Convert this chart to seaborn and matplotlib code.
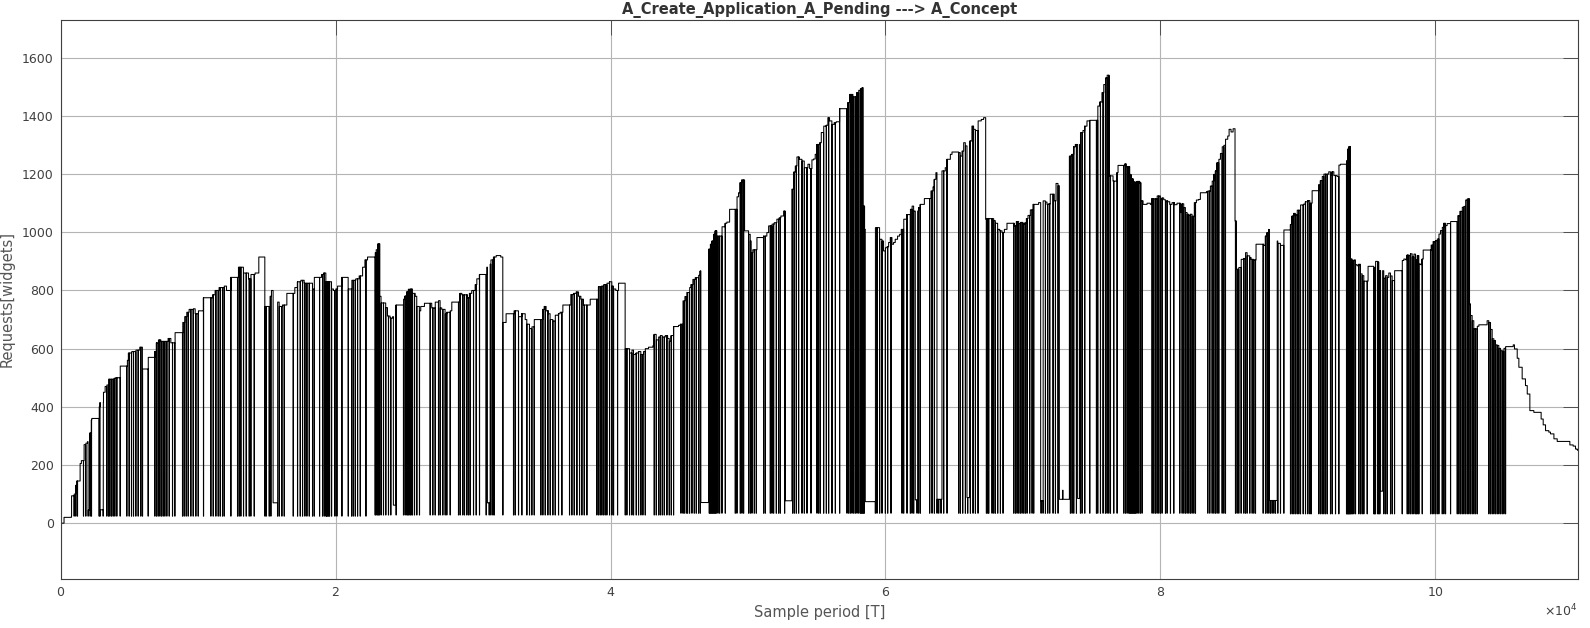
import numpy as np
import pandas as pd
import matplotlib
matplotlib.use("Agg")
import matplotlib.pyplot as plt
from matplotlib.ticker import ScalarFormatter, MultipleLocator
import seaborn as sns

sns.set_theme(style="white")
plt.rcParams["font.family"] = ["DejaVu Sans"]

# ---------------- data ----------------
# upper staircase (envelope): sample index where a new level starts, and that level
env_x = [0, 240, 780, 970, 1090, 1160, 1410, 1500, 1700, 1820, 1940, 2060, 2230, 2260, 2790, 2860,
         3110, 3230, 3350, 3470, 3880, 4000, 4320, 4850, 4920, 5170, 5460, 5750, 5940, 6360, 6840,
         6960, 7110, 7280, 7810, 8010, 8320, 8880, 9020, 9170, 9340, 9660, 9780, 10020, 10380, 11040,
         11230, 11520, 11890, 12060, 12370, 12930, 13290, 13660, 13830, 14140, 14410, 14850, 15230,
         15330, 15450, 15770, 15890, 16130, 16450, 17030, 17220, 17470, 17710, 18320, 18440, 18970,
         19120, 19290, 19700, 19840, 20010, 20140, 20450, 20910, 21180, 21470, 21710, 21960, 22130,
         22320,
         22870, 22940, 23040, 23210, 23300, 23640, 23770, 23960, 24150, 24370, 24930, 25050, 25170,
         25290, 25420, 25590, 25780, 25900, 26090, 26190, 26460, 26990, 27240, 27480, 27600, 27720,
         27960, 28080, 28330, 28450, 29050, 29180, 29590, 29730, 29900, 30150, 30270, 30460, 31000,
         31120, 31290, 31480, 31680, 32010, 32160, 32400, 32980, 33300, 33540, 33790, 33910, 34100,
         34270, 34440, 35070, 35170, 35310, 35480, 35600, 35800, 35970, 36210, 36330, 36530, 37110,
         37300, 37500, 37670, 37840, 38030, 38520, 39120, 39360, 39490, 39730, 39920, 40090, 40210,
         40380, 40580, 41060, 41380, 41550, 41670, 41860, 42030, 42200, 42400, 42520, 42760, 43080,
         43170, 43320, 43490, 43610, 43760, 43980, 44150, 44270, 44410, 44580, 44940,
         45070, 45260, 45410, 45550, 45750, 45840, 45990, 46160, 46400, 46520, 46570, 47130, 47250,
         47370, 47490, 47610, 47730, 48100, 48340, 48460, 48660, 49190, 49310, 49430, 49550, 49750,
         50040, 50160, 50230, 50350, 50650, 51130, 51370, 51500, 51740, 51910, 52100, 52270, 52390,
         52590, 52710, 53190, 53310, 53440, 53560, 53730, 53920, 54090, 54360, 54480, 54650, 54770,
         54890, 55010, 55210, 55330, 55500, 55690, 55810, 55930, 56100, 56270, 56420, 56660, 57240,
         57390, 57630, 57920, 58050, 58170, 58290, 58380, 58480, 58530, 59260, 59570, 59740, 59860,
         59990, 60110, 60230, 60350, 60470, 60590, 60710, 60880, 61030, 61150, 61320, 61560, 61810,
         61930, 62050, 62170, 62290, 62410, 62530, 62830, 63310, 63460, 63550, 63670, 63800, 63940,
         64110, 64350, 64470, 64720, 64840, 65320, 65440, 65570, 65690, 65810, 65930, 66050, 66290,
         66410, 66540, 66730, 66970, 67140, 67290, 67380,
         67870, 67990, 68160, 68310, 68480, 68650, 68840, 69370, 69520, 69690, 69810, 70000, 70100,
         70250, 70370, 70540, 70730, 71140, 71320, 71460, 71630, 71750, 71870, 71990, 72280, 72410,
         72550, 72650, 72880, 72920, 73380, 73570, 73690, 73810, 74180, 74370, 74490, 74660, 74860,
         75440, 75580, 75750, 75880, 76000, 76120, 76260, 76555, 76845, 76920, 77400, 77525, 77770,
         77860, 78010, 78180, 78300, 78500, 78590, 78740, 79030, 79270, 79390, 79510, 79760, 80000,
         80120, 80240, 80365, 80530, 80680, 80850, 81020, 81210, 81455, 81575, 81700, 81820, 81940,
         82060, 82180, 82300, 82470, 82620, 82790, 82910, 83350, 83450, 83640, 83760, 83880, 84000,
         84120, 84250, 84370, 84490, 84610, 84730, 84900, 85000, 85140, 85290, 85430, 85530, 85700,
         85870, 86060, 86190, 86310, 86500, 86600, 86790, 86960, 87520, 87640, 87760, 87880, 88000,
         88130, 88250, 88370, 88540, 88730, 88980, 89460, 89580, 89700, 89820, 89950,
         90190, 90430, 90550, 90720, 90870, 91040, 91520, 91640, 91770, 91890, 92250, 92370, 92490,
         92620, 92860, 92980, 93100, 93540, 93630, 93730, 93830, 93950, 94070, 94190, 94310, 94430,
         94560, 94680, 94800, 95110, 95530, 95650, 95820, 95890, 96250, 96380, 96500, 96620, 96740,
         96860, 97030, 97590, 97710, 97830, 97950, 98070, 98190, 98320, 98440, 98560, 98680, 98800,
         98920, 99040, 99120, 99700, 99840, 100010, 100140, 100260, 100380, 100500, 100620, 100740,
         100860, 101110, 101640, 101790, 101960, 102080, 102200, 102320, 102490, 102560, 102680,
         102800, 103050, 103170, 103770, 103890, 104020, 104140, 104260, 104380, 104500, 104620,
         104750, 104870, 104990, 105110, 105670, 105760, 105960, 106080, 106320, 106560, 106690,
         106880, 107170, 107700, 107850, 108020, 108260, 108380, 108630, 108870, 109790, 110030,
         110200, 110320, 110360]

env_y = [0, 20, 94, 100, 130, 145, 205, 215, 270, 275, 280, 310, 355, 360, 400, 415,
         450, 470, 475, 495, 498, 500, 540, 560, 585, 590, 595, 605, 530, 570, 590,
         620, 630, 625, 635, 620, 655, 690, 710, 725, 735, 737, 720, 730, 775, 785,
         800, 810, 815, 800, 845, 880, 860, 840, 855, 860, 915, 745, 780,
         800, 70, 760, 745, 750, 790, 810, 830, 835, 825, 805, 845, 855,
         860, 830, 805, 800, 805, 815, 845, 805, 835, 840, 850, 880, 905,
         915,
         930, 940, 960, 780, 757, 741, 712, 705, 710, 750, 770, 781, 795,
         804, 805, 790, 780, 745, 730, 745, 756, 740, 760, 765, 740, 735,
         720, 725, 730, 760, 790, 785, 775, 790, 800, 820, 840, 855, 880,
         890, 905, 915, 920, 915, 690, 720, 730, 710, 720, 700, 684, 669,
         675, 700, 735, 745, 730, 720, 700, 695, 715, 720, 725, 750, 786,
         790, 795, 780, 770, 750, 770, 813, 815, 820, 825, 830, 815, 805,
         800, 825, 600, 585, 595, 580, 585, 590, 580, 590, 600, 605, 610,
         649, 630, 640, 645, 640, 645, 635, 625, 645, 676, 680,
         684, 764, 779, 793, 810, 820, 838, 844, 852, 867, 71, 942, 959,
         970, 993, 1005, 987, 1019, 1031, 1035, 1079, 1122, 1136, 1171, 1180, 1005,
         993, 970, 930, 940, 982, 987, 999, 1022, 1028, 1033, 1045, 1050, 1056,
         1073, 77, 1148, 1207, 1228, 1259, 1251, 1245, 1222, 1234, 1219, 1249, 1252,
         1268, 1302, 1308, 1343, 1365, 1368, 1394, 1383, 1371, 1377, 1380, 1425, 1446,
         1474, 1466, 1480, 1488, 1494, 1497, 1090, 1010, 74, 1016, 976, 970, 936,
         947, 950, 965, 982, 959, 965, 976, 987, 993, 1010, 1045, 1061, 1079,
         1090, 1073, 1088, 1073, 1085, 1096, 1116, 1142, 1156, 1182, 1205, 1199, 1171,
         1211, 1222, 1251, 1268, 1276, 1274, 1262, 1279, 1308, 1297, 1285, 1314, 1365,
         1354, 1350, 1383, 1388, 1394, 1045, 1047,
         1040, 1031, 1010, 1005, 999, 1010, 1031, 1022, 1037, 1030, 1034, 1028, 1032,
         1047, 1058, 1077, 1096, 1102, 1093, 1108, 1104, 1096, 1098, 1131, 1108, 1168,
         1160, 82, 113, 82, 1262, 1268, 1294, 1302, 1343, 1350, 1365, 1383, 1385,
         1434, 1448, 1480, 1508, 1531, 1540, 1194, 1176, 1205, 1230, 1235, 1226, 1199,
         1184, 1173, 1170, 1175, 1170, 1108, 1096, 1100, 1096, 1116, 1115, 1125, 1113,
         1118, 1112, 1108, 1105, 1096, 1102, 1095, 1100, 1068, 1098, 1085, 1068, 1062,
         1058, 1062, 1055, 1102, 1111, 1113, 1136, 1140, 1142, 1159, 1176, 1199, 1211,
         1239, 1251, 1271, 1294, 1299, 1320, 1331, 1354, 1345, 1356, 1039, 873, 879,
         907, 910, 930, 919, 913, 907, 905, 959, 955, 987, 999, 1010, 999,
         1005, 999, 970, 962, 955, 1008, 1027, 1056, 1065, 1060, 1076,
         1094, 1097, 1105, 1109, 1100, 1143, 1163, 1178, 1192, 1200, 1208, 1196, 1208,
         1195, 1192, 1231, 1234, 1246, 1286, 1295, 908, 903, 905, 889, 885, 890,
         857, 851, 832, 883, 877, 900, 898, 868, 842, 851, 845, 860, 850,
         834, 868, 903, 908, 906, 922, 920, 926, 915, 925, 905, 920, 891,
         889, 908, 939, 956, 968, 971, 977, 994, 1006, 1017, 1031, 1023,
         1030, 1037, 1057, 1072, 1086, 1089, 1111, 1115, 754, 714, 696,
         668, 677, 682, 696, 690, 666, 634, 628, 613, 611, 601,
         593, 591, 601, 607, 613, 599, 567, 536, 496, 473, 444,
         387, 381, 358, 338, 318, 313, 307, 290, 281, 269, 265,
         255, 253, 250]

# brief drops of the signal to its floor (sample index where each drop starts)
drop_x = [776, 970, 1092, 1213, 1650, 1820, 1989, 2135, 2232, 2790, 2863, 3081, 3348, 3469, 3566,
          3688, 3809, 3930, 4076, 4318, 4803, 4973, 5143, 5289, 5459, 5628, 5822, 5944, 6356, 6841,
          6963, 7084, 7205, 7327, 7448, 7569, 7715, 7885, 8127, 8297, 8855, 8976, 9122, 9267, 9461,
          9631, 9825, 9995, 10383, 10917, 11087, 11281, 11451, 11596, 11766, 11887, 12373, 12858,
          12979, 13100, 13294, 13489, 13707, 13828, 14071, 14847, 14944, 15163, 15284, 15769, 15890,
          16084, 16254, 16909, 17225, 17419, 17589, 17758, 17904, 18074, 18316, 18438, 18826, 19044,
          19165, 19287, 19335, 19408, 19481, 19554, 19699, 19942, 20087, 20451, 20912, 21155, 21276,
          21422, 21591, 21785, 22198,
          22870, 22940, 23040, 23110, 23180, 23300, 23474, 23644, 23838, 24008, 24396, 24930, 25051,
          25173, 25245, 25318, 25415, 25488, 25585, 25731, 25900, 26094, 26871, 27065, 27235, 27477,
          27599, 27793, 27963, 28084, 28326, 28933, 29054, 29248, 29370, 29539, 29661, 29782, 30025,
          30219, 30461, 30946, 31165, 31286, 31432, 31529, 32160, 32936, 33057, 33300, 33542, 33906,
          34100, 34270, 34440, 34925, 35071, 35241, 35435, 35604, 35798, 35968, 36211, 36453, 37011,
          37181, 37351, 37545, 37739, 37909, 38079, 38273, 39001, 39122, 39243, 39365, 39486, 39607,
          39729, 39923, 40093, 40214, 40505, 41063, 41184, 41378, 41548, 41669, 41863, 42033, 42203,
          42348, 42518, 43173, 43319, 43489, 43610, 43756, 43901, 44095, 44265, 44411, 44581,
          45115, 45260, 45357, 45503, 45600, 45745, 45915, 46085, 46230, 46400, 46522, 47177, 47250,
          47322, 47395, 47468, 47541, 47613, 47686, 47807, 47929, 48099, 48341, 49069, 49190, 49433,
          49554, 49675, 50039, 50161, 50282, 50452, 50597, 51131, 51252, 51616, 51738, 51859, 52053,
          52223, 52344, 52659, 53242, 53363, 53508, 53678, 53921, 54091, 54285, 54576, 55013, 55134,
          55255, 55498, 55692, 55862, 56104, 56347, 56662, 57196, 57317, 57439, 57560, 57681, 57803,
          57924, 58045, 58166, 58239, 58312, 58385, 58458, 59258, 59379, 59573, 59743, 59986, 60156,
          60398, 61199, 61320, 61563, 61805, 61927, 62048, 62291, 62412, 62533, 63212, 63382, 63552,
          63746, 63868, 64037, 64231, 64474, 65323, 65444, 65614, 65808, 65978, 66172, 66366, 66536,
          66730, 67337, 67434, 67507,
          67748, 67870, 67991, 68161, 68355, 68549, 69325, 69447, 69568, 69689, 69810, 69932, 70053,
          70174, 70296, 70490, 70660, 70781, 71315, 71460, 71630, 71800, 71945, 72188, 72358, 72552,
          73449, 73571, 73692, 73886, 74177, 74299, 74493, 74857, 75342, 75439, 75633, 75827, 75997,
          76118, 76239, 76361, 76603, 76846, 77331, 77452, 77574, 77695, 77768, 77841, 77913, 77986,
          78059, 78132, 78205, 78301, 78423, 78544, 78665, 79393, 79514, 79636, 79757, 79878, 80000,
          80121, 80364, 80485, 80727, 80970, 81407, 81577, 81698, 81819, 81941, 82062, 82183, 82304,
          82426, 82547, 83445, 83590, 83760, 83881, 84003, 84124, 84245, 84488, 84609, 84730, 85458,
          85579, 85700, 85870, 86064, 86186, 86307, 86501, 86671, 86792, 86914, 87472, 87642, 87763,
          87884, 88006, 88127, 88248, 88369, 88539, 88733, 88976, 89461, 89582, 89703, 89824, 89946,
          90067,
          90189, 90383, 90553, 90723, 90868, 90965, 91523, 91644, 91766, 91887, 92008, 92130, 92372,
          92494, 92736, 92979, 93537, 93585, 93634, 93682, 93731, 93779, 93828, 93901, 93973, 94070,
          94192, 94434, 94556, 94677, 94798, 95041, 95526, 95575, 95647, 95817, 95890, 95963, 96254,
          96375, 96496, 96739, 96860, 97030, 97588, 97952, 98073, 98194, 98316, 98437, 98558, 98631,
          98728, 98801, 99044, 99650, 99772, 99893, 100014, 100136, 100257, 100500, 100621, 100742,
          101106, 101591, 101712, 101834, 101955, 102076, 102198, 102319, 102440, 102561, 102683,
          102804, 102925, 103046, 103896, 104017, 104138, 104260, 104381, 104502, 104623, 104745,
          104866, 104987, 105108]

# floor level reached by the drops, by stretch of the run
low_zone_x = [0, 22500, 45000, 67600, 89400]
low_zone_y = [24, 28, 34, 34, 32]

# drops that only fall part of the way (start, length, level)
partial_x = [1990, 2870, 24200, 31040, 62170, 63750, 65930, 71290, 73980, 87900, 96020]
partial_w = [120, 230, 190, 200, 170, 360, 200, 170, 150, 600, 150]
partial_y = [45, 46, 62, 70, 80, 82, 88, 77, 85, 78, 110]

DROP_W = 12  # samples per drop

# ---------------- build step series ----------------
env_x_a = np.array(env_x)
env_y_a = np.array(env_y, dtype=float)
drop_x_a = np.array(drop_x)
px_a = np.array(partial_x)
pw_a = np.array(partial_w)

pts = np.unique(np.concatenate([env_x_a, drop_x_a, drop_x_a + DROP_W, px_a, px_a + pw_a]))
pts = pts[pts <= env_x_a[-1]]
idx = np.searchsorted(env_x_a, pts, side="right") - 1
vals = env_y_a[idx].copy()
for s, w, lv in zip(partial_x, partial_w, partial_y):
    m = (pts >= s) & (pts < s + w)
    vals[m] = lv
zone = np.searchsorted(np.array(low_zone_x), drop_x_a, side="right") - 1
for d, z in zip(drop_x, zone):
    m = (pts >= d) & (pts < d + DROP_W)
    vals[m] = low_zone_y[z]

df = pd.DataFrame({"t": pts.astype(float), "v": vals})

# ---------------- plot ----------------
TXT = "#404040"
fig = plt.figure(figsize=(15.9, 6.28), dpi=100, facecolor="white")
ax = fig.add_axes([0.0382, 0.0780, 0.99226 - 0.0382, 0.9682 - 0.0780])
ax.set_facecolor("white")

sns.lineplot(data=df, x="t", y="v", ax=ax, estimator=None, sort=False,
             drawstyle="steps-post", color="black", linewidth=0.75)

ax.set_xlim(0, 110360)
ax.set_ylim(-192, 1730)
ax.xaxis.set_major_locator(MultipleLocator(20000))
fmt = ScalarFormatter(useMathText=True)
fmt.set_powerlimits((4, 4))
ax.xaxis.set_major_formatter(fmt)
ax.set_yticks([0, 200, 400, 600, 800, 1000, 1200, 1400, 1600])

ax.grid(True, color="#b4b4b4", linewidth=0.8)
ax.set_axisbelow(True)
ax.tick_params(direction="in", length=10.8, width=0.6, top=True, right=True,
               colors="#404040", labelcolor=TXT, labelsize=9, pad=5)
for sp in ax.spines.values():
    sp.set_color("#404040")
    sp.set_linewidth(0.8)
    sp.set_visible(True)
ax.xaxis.get_offset_text().set_fontsize(9)
ax.xaxis.get_offset_text().set_color(TXT)

ax.set_xlabel("Sample period [T]", fontsize=10.5, color="#555555", labelpad=4)
ax.set_ylabel("Requests[widgets]", fontsize=10.5, color="#555555", labelpad=5)
ax.set_title("A_Create_Application_A_Pending ---> A_Concept", fontsize=10.5,
             fontweight="bold", color="#333333", pad=4)

fig.savefig("out.png", dpi=100, facecolor="white")
